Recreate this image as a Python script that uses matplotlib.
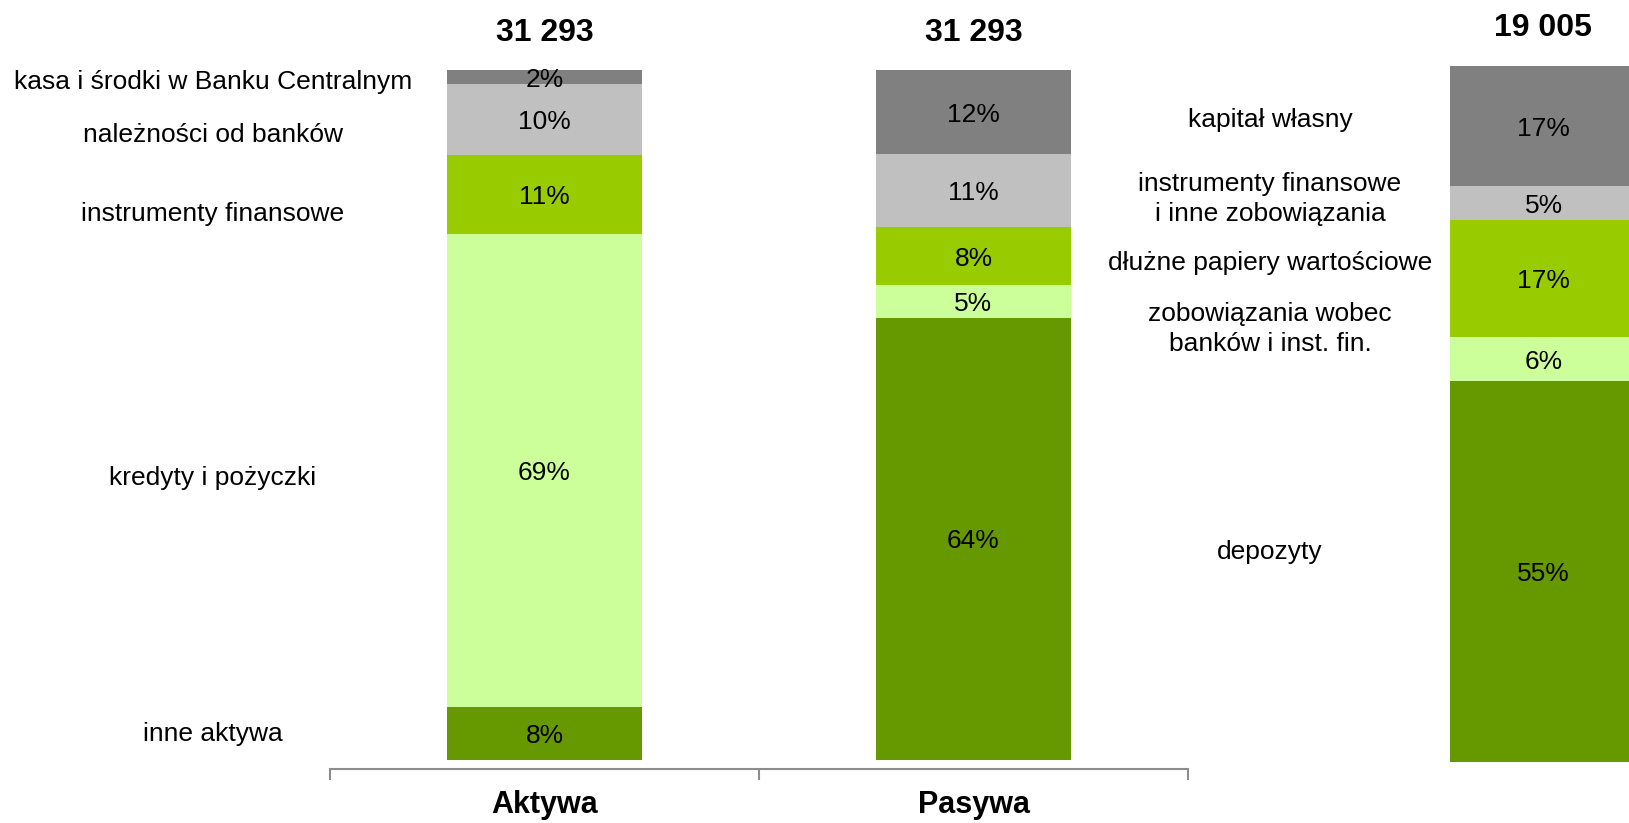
import matplotlib
matplotlib.use("Agg")
from matplotlib import pyplot as plt
from matplotlib import font_manager

# Data
categories = ["Aktywa", "Pasywa"]
totals = ["31 293", "31 293", "19 005"]

aktywa_labels = ["inne aktywa", "kredyty i pożyczki", "instrumenty finansowe",
                 "należności od banków", "kasa i środki w Banku Centralnym"]
aktywa_values = [7.7, 68.6, 11.4, 10.2, 2.1]

pasywa_labels = ["depozyty", "zobowiązania wobec\nbanków i inst. fin.",
                 "dłużne papiery wartościowe",
                 "instrumenty finansowe\ni inne zobowiązania", "kapitał własny"]
pasywa_values = [64.1, 4.7, 8.4, 10.6, 12.2]
third_values = [54.7, 6.3, 16.9, 4.8, 17.3]

colors = ["#669900", "#CCFF99", "#99CC00", "#C0C0C0", "#808080"]

installed = {f.name for f in font_manager.fontManager.ttflist}
narrow = "Liberation Sans Narrow" if "Liberation Sans Narrow" in installed else "Liberation Sans"
plt.rcParams["font.family"] = ["Liberation Sans", "DejaVu Sans"]

W, H = 1629, 823
fig = plt.figure(figsize=(W / 100, H / 100), dpi=100)


def fx(px):
    return px / W


def fy(py):
    return 1 - py / H


# main axes: x -0.5..1.5 spans px 330..1188, y axis line at 769, 100% at 70
ax = fig.add_axes([fx(330), fy(769), fx(1188 - 330), (769 - 70) / H])
ax.set_xlim(-0.5, 1.5)
ax.set_ylim(-1.3, 100)

bar_w = 0.453
for i, vals in enumerate([aktywa_values, pasywa_values]):
    bottom = 0
    for v, c in zip(vals, colors):
        ax.bar(i, v, bottom=bottom, width=bar_w, color=c, linewidth=0)
        ax.text(i, bottom + v / 2, f"{round(v)}%", ha="center",
                va="center_baseline", fontsize=19)
        bottom += v
    ax.text(i, 100 + 5.9, totals[i], ha="center", va="center_baseline",
            fontsize=23, fontweight="bold")

for s in ["top", "left", "right"]:
    ax.spines[s].set_visible(False)
ax.spines["bottom"].set_color("#8c8c8c")
ax.spines["bottom"].set_linewidth(1.5)
ax.set_yticks([])
ax.set_xticks([-0.5, 0.5, 1.5])
ax.set_xticklabels([])
ax.tick_params(axis="x", direction="out", length=8, width=1.5, color="#8c8c8c")
for i, cat in enumerate(categories):
    ax.text(i, -6.55, cat, ha="center", va="center", fontsize=22,
            fontweight="bold", family=narrow)

# third bar (cut off at the right edge)
ax2 = fig.add_axes([fx(1450), fy(762), fx(195), (762 - 66) / H])
ax2.set_xlim(0, 1)
ax2.set_ylim(0, 100)
bottom = 0
for v, c in zip(third_values, colors):
    ax2.bar(0.5, v, bottom=bottom, width=1, color=c, linewidth=0)
    ax2.text(0.48, bottom + v / 2, f"{round(v)}%", ha="center",
             va="center_baseline", fontsize=19)
    bottom += v
ax2.axis("off")
fig.text(fx(1543), fy(24), totals[2], ha="center", va="center_baseline",
         fontsize=23, fontweight="bold")

# left labels
left_y = [732, 476, 211, 132, 79]
for lab, y in zip(aktywa_labels, left_y):
    fig.text(fx(213), fy(y), lab, ha="center", va="center_baseline",
             fontsize=19)

# right labels
right_y = [552, 329, 263, 199, 120]
for lab, y in zip(pasywa_labels, right_y):
    fig.text(fx(1270), fy(y), lab, ha="center", va="center", fontsize=19,
             linespacing=1.35)

fig.savefig("out.png", dpi=100)
